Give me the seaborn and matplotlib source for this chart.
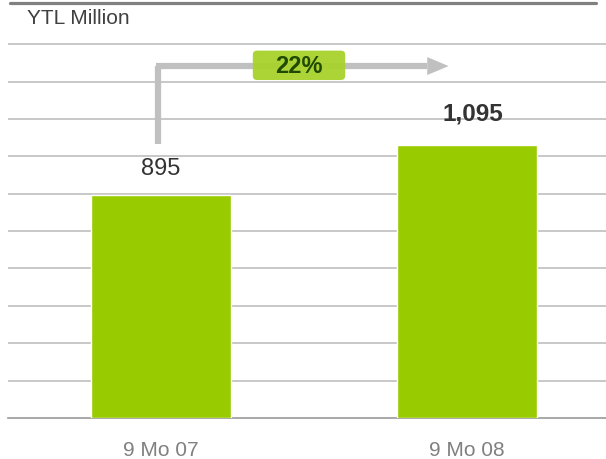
import matplotlib
matplotlib.use("Agg")
import matplotlib.pyplot as plt
from matplotlib.patches import FancyBboxPatch
from matplotlib.lines import Line2D
import seaborn as sns
import pandas as pd

categories = ["9 Mo 07", "9 Mo 08"]
values = [895, 1095]
value_labels = ["895", "1,095"]
growth_label = "22%"
unit_label = "YTL Million"

sns.set_style("white")
plt.rcParams["font.family"] = ["Liberation Sans", "DejaVu Sans"]

W, H = 606, 460
fig = plt.figure(figsize=(W / 100, H / 100), dpi=100)
ax = fig.add_axes([8 / W, (H - 419) / H, 612 / W, 415 / H])

df = pd.DataFrame({"cat": categories, "val": values})
sns.barplot(data=df, x="cat", y="val", color="#99cc00", saturation=1,
            width=0.46, ax=ax, zorder=3)

ax.set_xlim(-0.5, 1.5)
ax.set_ylim(0, 1665)
ax.set_yticks(range(150, 1501, 150))
ax.yaxis.grid(True, color="#c4c4c4", linewidth=1.3, zorder=0)
ax.set_axisbelow(True)
ax.tick_params(axis="y", left=False, labelleft=False)
ax.set_xlabel("")
ax.set_ylabel("")

for s in ["top", "right", "left"]:
    ax.spines[s].set_visible(False)
ax.spines["bottom"].set_color("#999999")
ax.spines["bottom"].set_linewidth(1.2)

ax.set_xticks([-0.5, 0.5, 1.5], minor=True)
ax.tick_params(axis="x", which="minor", direction="out", length=4.5,
               color="#999999", width=1)
ax.tick_params(axis="x", which="major", length=0, pad=16,
               labelsize=15, labelcolor="#808080")

# value labels
ax.text(0, values[0] + 110, value_labels[0], ha="center", va="center",
        fontsize=17, color="#333333")
ax.text(1.02, values[1] + 130, value_labels[1], ha="center", va="center",
        fontsize=17.5, color="#333333", fontweight="bold")

# growth arrow
arrow_y = 1412
ax.plot([-0.01, -0.01], [1100, arrow_y], color="#c0c0c0", lw=4.5,
        solid_capstyle="butt", zorder=4)
ax.plot([-0.01 - 0.007, 0.87], [arrow_y, arrow_y], color="#c0c0c0", lw=4.5,
        solid_capstyle="butt", zorder=4)
ax.fill([0.87, 0.87, 0.94], [arrow_y - 36, arrow_y + 36, arrow_y],
        color="#c0c0c0", zorder=4, lw=0)

box = FancyBboxPatch((0.30, 1356), 0.302, 118,
                     boxstyle="round,pad=0,rounding_size=0.014",
                     mutation_aspect=1230,
                     facecolor="#a9d22c", edgecolor="none", zorder=5,
                     alpha=0.95)
ax.add_patch(box)
ax.text(0.451, 1413, growth_label, ha="center", va="center",
        fontsize=17, fontweight="bold", color="#1f4a00", zorder=6)

# top rule and unit label
fig.add_artist(Line2D([10 / W, 596 / W], [1 - 4 / H, 1 - 4 / H],
                      color="#808080", lw=2.3))
fig.text(27 / W, 1 - 19 / H, unit_label, ha="left", va="center",
         fontsize=15, color="#404040")

fig.savefig("out.png", dpi=100)
